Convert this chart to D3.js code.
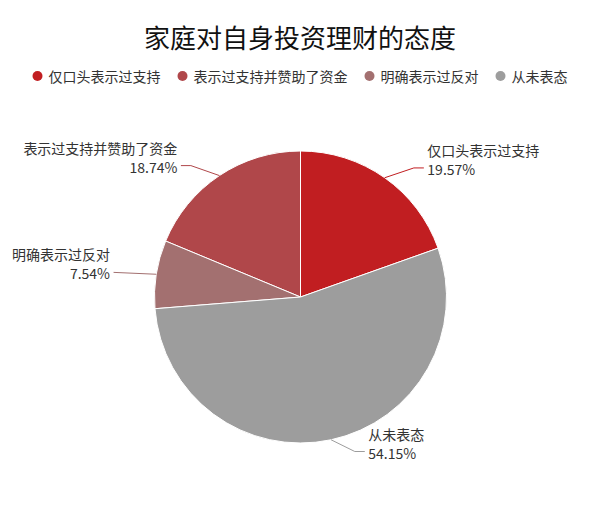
<!DOCTYPE html>
<html>
<head>
<meta charset="utf-8">
<script src="https://cdn.jsdelivr.net/npm/d3@7/dist/d3.min.js"></script>
<style>
  html, body { margin: 0; padding: 0; background: #fff; }
  svg { display: block; font-family: "Noto Sans CJK SC", "Noto Sans", sans-serif; }
</style>
</head>
<body>
<svg id="chart" width="600" height="512"></svg>
<script>
const title = "家庭对自身投资理财的态度";
const categories = ["仅口头表示过支持", "表示过支持并赞助了资金", "明确表示过反对", "从未表态"];
const values = [19.57, 18.74, 7.54, 54.15];
const colors = ["#c11e21", "#b0474a", "#a37070", "#9d9d9d"];

const W = 600, H = 512;
const cx = 300.5, cy = 297, r = 146;
const svg = d3.select("#chart");

// Title
svg.append("text")
  .attr("x", W / 2).attr("y", 36)
  .attr("text-anchor", "middle").attr("dominant-baseline", "central")
  .attr("font-size", 26).attr("fill", "#111")
  .text(title);

// Legend
const legend = svg.append("g");
let lx = 0;
categories.forEach((c, i) => {
  const g = legend.append("g").attr("transform", `translate(${lx},0)`);
  g.append("circle").attr("cx", 5).attr("cy", 0).attr("r", 5).attr("fill", colors[i]);
  const t = g.append("text").attr("x", 16).attr("y", 0)
    .attr("dominant-baseline", "central").attr("font-size", 14).attr("fill", "#333")
    .text(c);
  lx += 16 + t.node().getComputedTextLength() + 17;
});
const legendW = lx - 17;
legend.attr("transform", `translate(${(W - legendW) / 2},76)`);

// Pie (counter-clockwise, first slice ending at 12 o'clock)
const total = d3.sum(values);
const a0 = 2 * Math.PI * values[0] / total;
const data = categories.map((c, i) => ({ name: c, value: values[i], color: colors[i] }));
const pie = d3.pie().sort(null).value(d => d.value).startAngle(a0).endAngle(a0 - 2 * Math.PI);
const arcs = pie(data);
const arc = d3.arc().innerRadius(0).outerRadius(r);

const gPie = svg.append("g").attr("transform", `translate(${cx},${cy})`);
gPie.selectAll("path").data(arcs).join("path")
  .attr("d", arc)
  .attr("fill", d => d.data.color)
  .attr("stroke", "#fff").attr("stroke-width", 1);

// Labels
const Ry = 158, rA = 189, rB = 161.3, len2Max = 10, gap = 3.5, margin = 12;
const gLab = svg.append("g");
arcs.forEach(d => {
  const th = (d.startAngle + d.endAngle) / 2;
  const s = Math.sin(th) >= 0 ? 1 : -1;
  const ex = cx + r * Math.sin(th), ey = cy - r * Math.cos(th);
  const dy = -Ry * Math.cos(th);
  const dx = rA * Math.sqrt(Math.max(0, 1 - (dy / rB) * (dy / rB)));
  const bx = cx + s * dx, by = cy + dy;
  const anchor = s > 0 ? "start" : "end";
  const tName = gLab.append("text").attr("y", by - 18)
    .attr("text-anchor", anchor).attr("dominant-baseline", "central")
    .attr("font-size", 14).attr("fill", "#333").text(d.data.name);
  const tVal = gLab.append("text").attr("y", by + 1)
    .attr("text-anchor", anchor).attr("dominant-baseline", "central")
    .attr("font-size", 14).attr("fill", "#333").text(d.data.value.toFixed(2) + "%");
  const tw = Math.max(tName.node().getComputedTextLength(), tVal.node().getComputedTextLength());
  // room between the bend and the view edge
  const room = s > 0 ? (W - margin) - bx - gap - tw : bx - gap - tw - margin;
  const len2 = Math.max(0, Math.min(len2Max, room));
  const endX = bx + s * len2;
  const tx = endX + s * gap;
  tName.attr("x", tx);
  tVal.attr("x", tx);
  gLab.append("path")
    .attr("d", d3.line()([[ex, ey], [bx, by], [endX, by]]))
    .attr("fill", "none").attr("stroke", d.data.color).attr("stroke-width", 1);
});
</script>
</body>
</html>
